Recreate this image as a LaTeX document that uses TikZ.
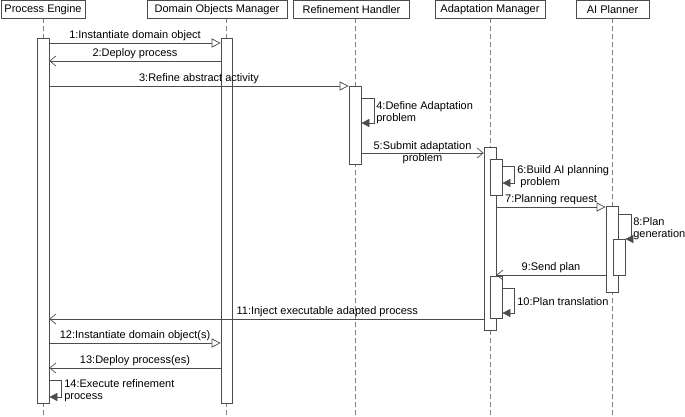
\documentclass[tikz,border=0pt]{standalone}
\usepackage{fontspec}
\setmainfont{Liberation Sans}
\usetikzlibrary{arrows.meta,backgrounds}

\definecolor{linec}{gray}{0.3}
\definecolor{lifec}{gray}{0.5}

\tikzset{
  every path/.style={line width=0.7pt},
  head/.style={draw=linec, minimum height=17.5pt, inner sep=0pt, font=\fontsize{11}{12}\selectfont},
  actbar/.style={draw=linec, fill=white, minimum width=12pt, inner sep=0pt, anchor=north},
  lifeline/.style={draw=lifec, dash pattern=on 5pt off 3pt},
  call/.style={draw=linec, -{Triangle[open, length=9pt, width=9pt]}},
  reply/.style={draw=linec, -{Straight Barb[length=6pt, width=10pt]}},
  selfcall/.style={draw=linec, -{Triangle[length=8pt, width=8pt]}},
  lbl/.style={font=\fontsize{11}{12}\selectfont, inner sep=1.5pt},
}

\begin{document}
\begin{tikzpicture}[x=1pt, y=-1pt]
	\useasboundingbox (0,0) rectangle (685,417);
	\coordinate (bottom) at (0,417);
	
	% headers
	\node[head, minimum width=84pt] (peHead) at (43,9.25) {Process Engine};
	\node[head, minimum width=140pt] (domHead) at (217,9.25) {Domain Objects Manager};
	\node[head, minimum width=116pt] (rhHead) at (351.5,9.25) {Refinement Handler};
	\node[head, minimum width=110pt] (amHead) at (490,9.25) {Adaptation Manager};
	\node[head, minimum width=73pt] (aiHead) at (612.5,9.25) {AI Planner};
	
	% activation bars
	\node[actbar, minimum height=365pt] (peBar) at (43,38) {};
	\node[actbar, minimum height=365pt, minimum width=11pt] (domBar) at (226.5,38) {};
	\node[actbar, minimum height=78pt] (rhBar) at (355,86) {};
	\node[actbar, minimum height=183pt] (amBar) at (490,147) {};
	\node[actbar, minimum height=36pt] (amBuild) at (496,159) {};
	\node[actbar, minimum height=42pt] (amTrans) at (496,276) {};
	\node[actbar, minimum height=86pt] (aiBar) at (612,206) {};
	\node[actbar, minimum height=36pt] (aiGen) at (619,239) {};
	
	% lifelines
	\begin{scope}[on background layer]
		\foreach \h/\b in {peHead/peBar, domHead/domBar, rhHead/rhBar, amHead/amBar, aiHead/aiBar}
			\draw[lifeline] (\b.center |- \h.south) -- (\b.center |- bottom);
	\end{scope}
	
	% message levels
	\foreach \n/\y in {m1/43, m2/61, m3/86, s4/98, e4/123, m5/153, s6/166, e6/183,
		m7/207, s8/214, m9/275, s10/288, e10/313, m11/319, m12/343, m13/368, s14/380, e14/397}
		\coordinate (\n) at (0,\y);
	
	% messages
	\draw[call] (peBar.east |- m1) -- node[lbl, above] (l1) {1:Instantiate domain object} (domBar.west |- m1);
	\draw[reply] (domBar.west |- m2) -- node[lbl, above] (l2) {2:Deploy process} (peBar.east |- m2);
	\draw[call] (peBar.east |- m3) -- node[lbl, above] (l3) {3:Refine abstract activity} (rhBar.west |- m3);
	\draw[selfcall] (rhBar.east |- s4) -- ++(13,0) |- (rhBar.east |- e4);
	\node[lbl, anchor=west, align=left] (l4) at (374.5,113) {4:Define Adaptation\\problem};
	\draw[reply] (rhBar.east |- m5) -- node[lbl, align=center] (l5) {5:Submit adaptation\\problem} (amBar.west |- m5);
	\draw[selfcall] (amBuild.east |- s6) -- ++(12,0) |- (amBuild.east |- e6);
	\node[lbl, anchor=west, align=left] (l6) at (515.5,177) {6:Build AI planning\\\ problem};
	\draw[call] (amBar.east |- m7) -- node[lbl, above] (l7) {7:Planning request} (aiBar.west |- m7);
	\draw[selfcall] (aiBar.east |- s8) -- ++(13,0) |- (aiGen.north east);
	\node[lbl, anchor=west, align=left] (l8) at (631.5,229) {8:Plan\\generation};
	\draw[reply] (aiBar.west |- m9) -- node[lbl, above] (l9) {9:Send plan} (amBar.east |- m9);
	\draw[selfcall] (amTrans.east |- s10) -- ++(12,0) |- (amTrans.east |- e10);
	\node[lbl, anchor=west] (l10) at (515.5,302) {10:Plan translation};
	\draw[reply] (amBar.west |- m11) -- node[lbl, above, pos=0.36] (l11) {11:Inject executable adapted process} (peBar.east |- m11);
	\draw[call] (peBar.east |- m12) -- node[lbl, above] (l12) {12:Instantiate domain object(s)} (domBar.west |- m12);
	\draw[reply] (domBar.west |- m13) -- node[lbl, above] (l13) {13:Deploy process(es)} (peBar.east |- m13);
	\draw[selfcall] (peBar.east |- s14) -- ++(12,0) |- (peBar.east |- e14);
	\node[lbl, anchor=west, align=left] (l14) at (62.5,391) {14:Execute refinement\\process};
\end{tikzpicture}
\end{document}
